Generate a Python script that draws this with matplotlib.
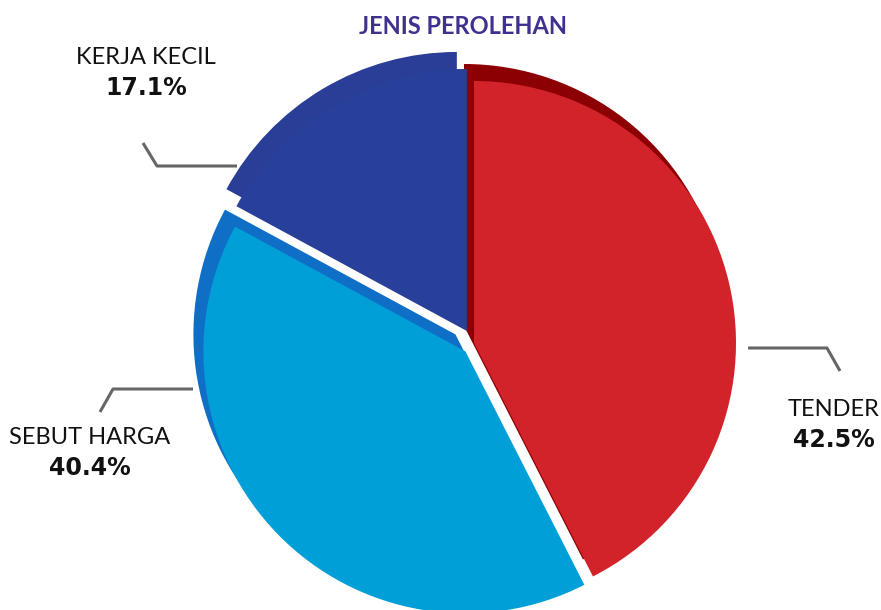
import matplotlib
matplotlib.use("Agg")
import matplotlib.pyplot as plt

# ---- data ----
categories = ["TENDER", "SEBUT HARGA", "KERJA KECIL"]
shares = [42.5, 40.4, 17.1]
title = "JENIS PEROLEHAN"

# ---- style ----
front_colors = ["#D2232A", "#009FD8", "#28409A"]
back_colors = ["#8C0004", "#0F6FC6", "#2A3E98"]
R = 262
center = (474, 343)
depth = (-10, -17)
explode = [0.0, 12.0, 14.0]   # offsets in data units (pixels)

fig = plt.figure(figsize=(8.81, 6.10), dpi=100)
ax = fig.add_axes([0, 0, 1, 1])

common = dict(startangle=-90, counterclock=True, radius=R, explode=explode,
              wedgeprops=dict(linewidth=0), frame=False)
ax.pie(shares, colors=back_colors,
       center=(center[0] + depth[0], center[1] + depth[1]), **common)
ax.pie(shares, colors=front_colors, center=center, **common)

ax.set_xlim(0, 881)
ax.set_ylim(610, 0)
ax.set_aspect("equal", adjustable="box")
ax.axis("off")

ax.text(463, 27, title, ha="center", va="center", fontsize=17,
        fontweight="bold", color="#40308F",
        family=["Lato", "DejaVu Sans"])

label_font = ["Lato", "DejaVu Sans"]
label_pos = {"TENDER": (834, 409), "SEBUT HARGA": (90, 437), "KERJA KECIL": (146, 57)}
for cat, val in zip(categories, shares):
    x, y = label_pos[cat]
    ax.text(x, y, cat, ha="center", va="center", fontsize=17,
            color="#111111", family=label_font)
    ax.text(x, y + 31, f"{val:.1f}%", ha="center", va="center", fontsize=17,
            fontweight="bold", color="#111111", family="DejaVu Sans")

lc = "#666666"
ax.plot([143, 157, 237], [143, 166, 166], color=lc, lw=2.2, solid_capstyle="butt")
ax.plot([100, 113, 193], [412, 389, 389], color=lc, lw=2.2, solid_capstyle="butt")
ax.plot([748, 827, 840], [348, 348, 371], color=lc, lw=2.2, solid_capstyle="butt")

fig.savefig("out.png", dpi=100)
